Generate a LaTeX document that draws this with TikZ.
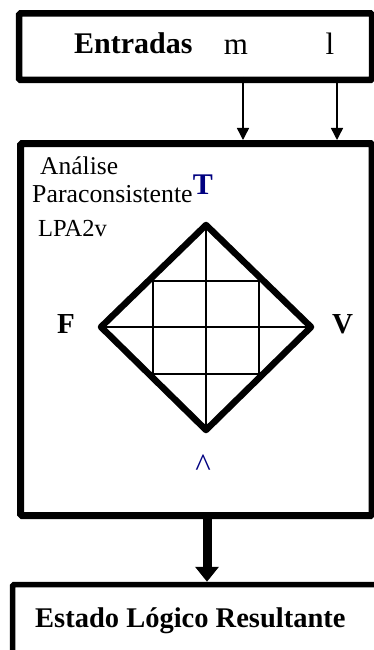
\documentclass[tikz,border=0pt]{standalone}
\usepackage{fontspec}
\setmainfont{Liberation Serif}
\usetikzlibrary{arrows.meta}
\definecolor{navyblue}{RGB}{0,0,128}
\begin{document}
\begin{tikzpicture}[x=1pt,y=-1pt,
  box/.style={draw=black,rectangle,rounded corners=1.5pt,inner sep=0pt},
  lbl/.style={inner sep=0pt,anchor=base west},
  clbl/.style={inner sep=0pt,anchor=base},
  thinarrow/.style={line width=1.4pt,-{Triangle[width=12pt,length=12pt]}},
  thickarrow/.style={line width=9pt,-{Triangle[width=23pt,length=15pt]}},
  gridline/.style={line width=1.4pt},
  rim/.style={line width=6.5pt,line join=round}
]
\useasboundingbox (0,0) rectangle (374,650);
\clip (0,0) rectangle (374,650);
% boxes
\node[box,line width=6.5pt,minimum width=353pt,minimum height=66.5pt] (inbox) at (195.5,46.75) {};
\node[box,line width=7pt,minimum width=351.5pt,minimum height=372pt] (mainbox) at (196.25,329.5) {};
\node[box,line width=5.5pt,minimum width=377.5pt,minimum height=85.5pt] (outbox) at (201.25,627.25) {};
% texts of the input box
\node[lbl] (entradas) at (74,54) {\fontsize{30}{36}\selectfont\bfseries Entradas};
\node[clbl] (mu) at (236,55) {\fontsize{31}{36}\selectfont m};
\node[clbl] (la) at (330,55) {\fontsize{31}{36}\selectfont l};
% input arrows
\coordinate (muout) at (243,77);
\coordinate (laout) at (337,77);
\draw[thinarrow] (muout) -- (mainbox.north -| muout);
\draw[thinarrow] (laout) -- (mainbox.north -| laout);
% main box texts
\node[lbl] (t1) at (40,174) {\fontsize{25.5}{30}\selectfont Análise};
\node[lbl] (t2) at (32,202) {\fontsize{25.8}{30}\selectfont Paraconsistente};
\node[lbl] (t3) at (38,236) {\fontsize{24.5}{30}\selectfont LPA2v};
\node[clbl,text=navyblue] (topT) at (203,194) {\fontsize{30}{36}\selectfont\bfseries T};
\node[lbl] (lblF) at (57,333) {\fontsize{29}{34}\selectfont\bfseries F};
\node[lbl] (lblV) at (332,333) {\fontsize{29}{34}\selectfont\bfseries V};
\node[clbl,text=navyblue] (bot) at (203,476) {\fontsize{33}{38}\selectfont\textasciicircum};
% lattice
\coordinate (dT) at (206,225);
\coordinate (dR) at (311,327);
\coordinate (dB) at (206,430);
\coordinate (dL) at (101,327);
\draw[gridline] (dT) -- (dB);
\draw[gridline] (dL) -- (dR);
\draw[gridline] (153,281) rectangle (259,374);
\draw[rim] (dT) -- (dR) -- (dB) -- (dL) -- cycle;
% output
\node[lbl] (estado) at (35,627) {\fontsize{28.5}{34}\selectfont\bfseries Estado Lógico Resultante};
\draw[thickarrow] (mainbox.south -| 207,0) -- (outbox.north -| 207,0);
\end{tikzpicture}
\end{document}
